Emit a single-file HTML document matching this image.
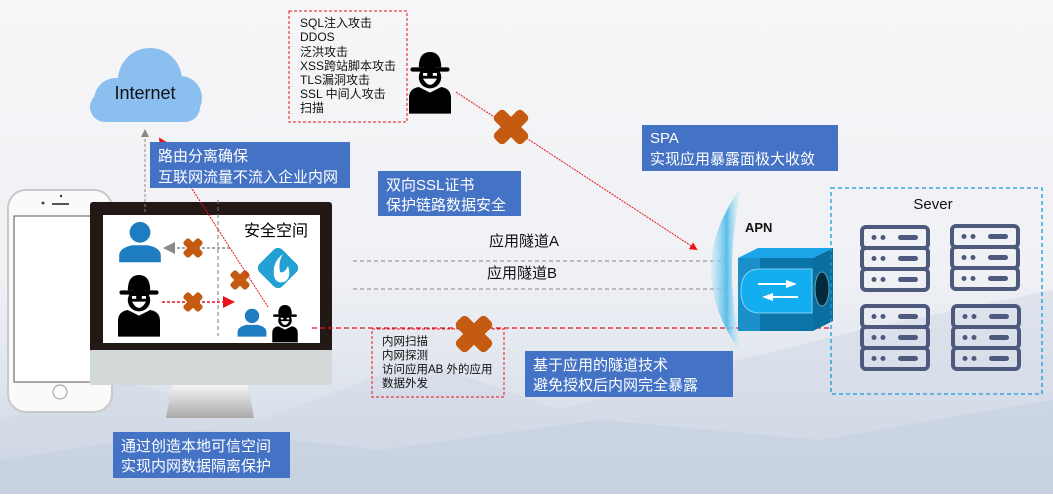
<!DOCTYPE html>
<html><head><meta charset="utf-8">
<style>
html,body{margin:0;padding:0}
body{width:1053px;height:494px;overflow:hidden;font-family:"Liberation Sans","Noto Sans CJK SC",sans-serif;}
</style></head>
<body>
<svg width="1053" height="494" viewBox="0 0 1053 494" xmlns="http://www.w3.org/2000/svg" font-family="Liberation Sans, Noto Sans CJK SC, sans-serif">
<defs>
<linearGradient id="bg" x1="0" y1="0" x2="0" y2="1">
<stop offset="0" stop-color="#f6f6f8"/><stop offset="0.55" stop-color="#f0f1f5"/><stop offset="0.8" stop-color="#dde3ec"/><stop offset="1" stop-color="#c9d3e1"/>
</linearGradient>
<linearGradient id="stand" x1="0" y1="0" x2="0" y2="1"><stop offset="0" stop-color="#f4f4f4"/><stop offset="1" stop-color="#a9a9a9"/></linearGradient>
<linearGradient id="glow" x1="0" y1="0" x2="1" y2="0"><stop offset="0" stop-color="#a9def3" stop-opacity="0.3"/><stop offset="0.5" stop-color="#57bde9"/><stop offset="1" stop-color="#e8f4fb" stop-opacity="0.2"/></linearGradient>
<marker id="ar" markerWidth="8" markerHeight="8" refX="6" refY="4" orient="auto"><path d="M0,0 L8,4 L0,8z" fill="#e8141b"/></marker>
<marker id="ag" markerWidth="8" markerHeight="8" refX="6" refY="4" orient="auto"><path d="M0,0 L8,4 L0,8z" fill="#888"/></marker>
<g id="hacker">
<rect x="-14" y="-9" width="28" height="3" rx="1.5" fill="#000"/>
<path d="M-8,-9 Q-8,-20 0,-20 Q8,-20 8,-9z" fill="#000"/>
<circle cx="0" cy="-2" r="8" fill="#000"/>
<path d="M-5,-1 Q0,8 5,-1z" fill="#fff"/>
<rect x="-5" y="-5" width="3" height="2" fill="#fff"/><rect x="2" y="-5" width="3" height="2" fill="#fff"/>
<path d="M-15,24 L-15,13 Q-15,6 -8,5 L0,9 L8,5 Q15,6 15,13 L15,24z" fill="#000"/>
</g>
<g id="user">
<circle cx="0" cy="-9" r="8" fill="#1e7cc1"/>
<path d="M-16,14 L-16,9 Q-16,3 -6,1 L6,1 Q16,3 16,9 L16,14z" fill="#1e7cc1"/>
</g>
<g id="xx">
<rect x="-22" y="-8" width="44" height="16" rx="5" fill="#c55a11" transform="rotate(45)"/>
<rect x="-22" y="-8" width="44" height="16" rx="5" fill="#c55a11" transform="rotate(-45)"/>
</g>
<g id="srv">
<rect x="0" y="0" width="66" height="21" rx="4" fill="none" stroke="#4e5a7d" stroke-width="4"/>
<circle cx="12" cy="10.5" r="2.5" fill="#4e5a7d"/><circle cx="21" cy="10.5" r="2.5" fill="#4e5a7d"/>
<rect x="36" y="8" width="20" height="5" rx="2.5" fill="#4e5a7d"/>
</g>
<g id="stack"><use href="#srv"/><use href="#srv" y="21"/><use href="#srv" y="42"/></g>
</defs>
<rect width="1053" height="494" fill="url(#bg)"/>
<path d="M0,420 L120,380 L260,420 L420,360 L560,410 L700,370 L860,330 L1053,290 L1053,494 L0,494z" fill="#cfd8e5" opacity="0.5"/>
<path d="M0,460 L200,430 L380,450 L600,420 L820,440 L1053,400 L1053,494 L0,494z" fill="#c2cddd" opacity="0.5"/>

<!-- cloud -->
<g fill="#8bbff0">
<rect x="90" y="92" width="110" height="30" rx="15"/><circle cx="150" cy="80" r="32"/><circle cx="116" cy="100" r="22"/><circle cx="180" cy="98" r="22"/>
</g>
<text x="145" y="99" font-size="18" text-anchor="middle" fill="#111">Internet</text>

<!-- phone -->
<rect x="8" y="190" width="104" height="222" rx="18" fill="#fafafa" stroke="#c9c9c9" stroke-width="2"/>
<rect x="14" y="216" width="94" height="166" fill="#fff" stroke="#555" stroke-width="1"/>
<circle cx="43" cy="203" r="1.5" fill="#444"/><rect x="52" y="203" width="17" height="2" fill="#555"/><circle cx="61" cy="196" r="1.2" fill="#333"/>
<circle cx="60" cy="392" r="7" fill="none" stroke="#999"/>

<!-- monitor -->
<path d="M172,385 L248,385 L254,418 L166,418z" fill="url(#stand)"/>
<rect x="90" y="202" width="242" height="150" rx="3" fill="#221815"/>
<rect x="90" y="350" width="242" height="35" rx="2" fill="#d3d8d9"/>
<rect x="103" y="215" width="217" height="128" fill="#fff"/>
<line x1="218" y1="200" x2="218" y2="336" stroke="#777" stroke-dasharray="4,3"/>
<text x="276" y="236" font-size="16" text-anchor="middle" fill="#000">安全空间</text>
<use href="#user" transform="translate(140,244) scale(1.3)"/>
<use href="#hacker" transform="translate(139,303) scale(1.4)"/>
<use href="#user" transform="translate(252,324) scale(0.9)"/>
<use href="#hacker" transform="translate(285,322) scale(0.85)"/>
<line x1="230" y1="248" x2="166" y2="248" stroke="#888" stroke-dasharray="3,2" stroke-width="1.5" marker-end="url(#ag)"/>
<line x1="162" y1="302" x2="232" y2="302" stroke="#e8141b" stroke-dasharray="3,2" stroke-width="1.5" marker-end="url(#ar)"/>
<use href="#xx" transform="translate(193,248) scale(0.5)"/>
<use href="#xx" transform="translate(193,302) scale(0.5)"/>
<use href="#xx" transform="translate(240,280) scale(0.5)"/>
<g transform="translate(278,268) rotate(45)"><rect x="-16" y="-16" width="32" height="32" rx="6" fill="#23a0d4"/></g>
<path d="M283,254 Q272,262 274,276 Q276,284 284,282 Q292,278 288,266 Q284,274 280,272 Q278,262 283,254z" fill="#fff"/>

<line x1="145" y1="212" x2="145" y2="131" stroke="#888" stroke-dasharray="3,2" marker-end="url(#ag)"/>
<line x1="268" y1="307" x2="160" y2="139" stroke="#e8141b" stroke-width="1" stroke-dasharray="2,1" marker-end="url(#ar)"/>

<g font-size="15" fill="#fff">
<rect x="150" y="142" width="200" height="46" fill="#4472c4"/>
<text x="158" y="161">路由分离确保</text><text x="158" y="182">互联网流量不流入企业内网</text>
<rect x="378" y="171" width="143" height="45" fill="#4472c4"/>
<text x="386" y="190">双向SSL证书</text><text x="386" y="210">保护链路数据安全</text>
<rect x="642" y="125" width="196" height="46" fill="#4472c4"/>
<text x="650" y="143">SPA</text><text x="650" y="164">实现应用暴露面极大收敛</text>
<rect x="525" y="351" width="208" height="46" fill="#4472c4"/>
<text x="533" y="370">基于应用的隧道技术</text><text x="533" y="390">避免授权后内网完全暴露</text>
<rect x="113" y="432" width="177" height="46" fill="#4472c4"/>
<text x="121" y="451">通过创造本地可信空间</text><text x="121" y="471">实现内网数据隔离保护</text>
</g>

<rect x="289" y="11" width="118" height="111" fill="none" stroke="#e8141b" stroke-dasharray="3,2"/>
<g font-size="12" fill="#111">
<text x="300" y="27">SQL注入攻击</text><text x="300" y="41">DDOS</text><text x="300" y="56">泛洪攻击</text><text x="300" y="70">XSS跨站脚本攻击</text><text x="300" y="84">TLS漏洞攻击</text><text x="300" y="98">SSL 中间人攻击</text><text x="300" y="112">扫描</text>
</g>
<use href="#hacker" transform="translate(430,80) scale(1.4)"/>
<line x1="456" y1="92" x2="696" y2="249" stroke="#e8141b" stroke-dasharray="2,1" marker-end="url(#ar)"/>
<use href="#xx" transform="translate(511,127) scale(0.9)"/>

<text x="524" y="246" font-size="15" text-anchor="middle" fill="#111">应用隧道A</text>
<text x="522" y="278" font-size="15" text-anchor="middle" fill="#111">应用隧道B</text>
<line x1="353" y1="261" x2="722" y2="261" stroke="#888" stroke-dasharray="4,3"/>
<line x1="353" y1="289" x2="728" y2="289" stroke="#888" stroke-dasharray="4,3"/>
<line x1="312" y1="328" x2="830" y2="328" stroke="#e8141b" stroke-dasharray="5,3" stroke-width="1.3"/>

<rect x="372" y="329" width="132" height="68" fill="none" stroke="#e8141b" stroke-dasharray="3,2"/>
<g font-size="11.5" fill="#111">
<text x="382" y="345">内网扫描</text><text x="382" y="359">内网探测</text><text x="382" y="373">访问应用AB 外的应用</text><text x="382" y="387">数据外发</text>
</g>
<use href="#xx" transform="translate(474,334) scale(0.95)"/>

<path d="M742,186 Q680,270 742,354 Q722,270 742,186z" fill="url(#glow)"/>
<text x="745" y="232" font-size="13" font-weight="bold" fill="#111">APN</text>
<path d="M738,258 L758,248 L833,248 L813,258z" fill="#1aa6e8"/>
<path d="M813,258 L833,248 L833,321 L813,331z" fill="#0a6f9e"/>
<rect x="738" y="258" width="75" height="73" fill="#1a8fca"/>
<rect x="760" y="258" width="53" height="73" fill="#0b74a8"/>
<path d="M760,269 L812,269 L812,313 L760,313 Q741,313 741,291 Q741,269 760,269z" fill="#13aef0" stroke="#7dd0f2"/>
<ellipse cx="822" cy="289" rx="7" ry="17" fill="#062a3d" stroke="#5ab"/>
<path d="M758,284 L792,284" stroke="#fff" stroke-width="2"/><path d="M786,280 L797,284 L786,288z" fill="#fff"/>
<path d="M768,297 L798,297" stroke="#fff" stroke-width="2"/><path d="M773,293 L762,297 L773,301z" fill="#fff"/>

<rect x="831" y="188" width="211" height="206" fill="none" stroke="#1a9ad6" stroke-dasharray="4,3" stroke-width="1.3"/>
<text x="933" y="209" font-size="15" text-anchor="middle" fill="#111">Sever</text>
<use href="#stack" x="862" y="227"/>
<use href="#stack" x="952" y="226"/>
<use href="#stack" x="862" y="306"/>
<use href="#stack" x="953" y="306"/>
</svg>
</body></html>
